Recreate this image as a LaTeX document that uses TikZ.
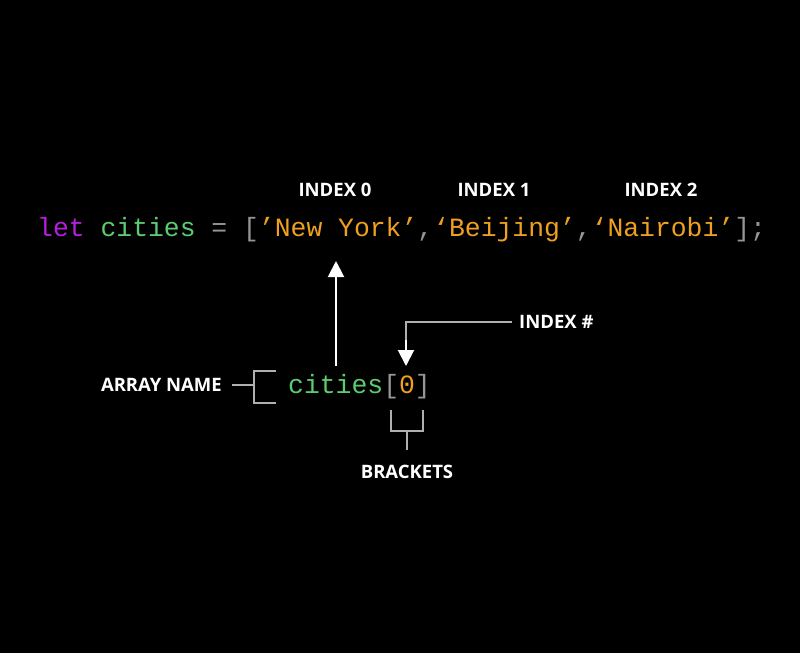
\documentclass[tikz,border=0pt]{standalone}
\usepackage{fontspec}
\setmainfont{Open Sans}
\setmonofont{Liberation Mono}
\usetikzlibrary{arrows.meta}
\definecolor{kwpurple}{RGB}{181,32,222}
\definecolor{idgreen}{RGB}{92,204,112}
\definecolor{strorange}{RGB}{240,160,32}
\definecolor{punct}{RGB}{150,150,150}
\definecolor{guide}{RGB}{175,175,175}
\tikzset{
  code/.style={inner sep=0pt, font=\fontsize{26.4}{30}\selectfont\ttfamily, anchor=base west},
  lbl/.style={inner sep=0pt, text=white, font=\fontsize{18.5}{22}\selectfont\bfseries},
  guideline/.style={draw=guide, line width=1.3pt},
  whitearrow/.style={draw=white, line width=2pt, -{Triangle[width=16pt,length=16pt]}},
}
\begin{document}
\begin{tikzpicture}[x=1pt,y=-1pt]
\fill[black] (0,0) rectangle (800,653);
\useasboundingbox (0,0) rectangle (800,653);
% code line
\node[code] (line) at (37,236) {\textcolor{kwpurple}{let} \textcolor{idgreen}{cities} \textcolor{punct}{= [}\textcolor{strorange}{’New York’}\textcolor{punct}{,}\textcolor{strorange}{‘Beijing’}\textcolor{punct}{,}\textcolor{strorange}{‘Nairobi’}\textcolor{punct}{];}};
% index labels
\node[lbl] (i0) at (335,190) {INDEX 0};
\node[lbl] (i1) at (494,190) {INDEX 1};
\node[lbl] (i2) at (661,190) {INDEX 2};
% access expression
\node[code] (acc) at (288,393) {\textcolor{idgreen}{cities}\textcolor{punct}{[}\textcolor{strorange}{0}\textcolor{punct}{]}};
\coordinate (upbot) at (336,366);
\coordinate (uptop) at (336,261);
\draw[whitearrow] (upbot) -- (uptop);
% index #
\node[lbl, anchor=west] (ih) at (519,322) {INDEX \#};
\coordinate (ihl) at (512,322);
\coordinate (dntip) at (406,366);
\draw[guideline] (ihl) -- (406,322) -- (406,352);
\draw[whitearrow] (406,340) -- (dntip);
% array name
\node[lbl, anchor=east] (an) at (222,385) {ARRAY NAME};
\coordinate (anr) at (232,385);
\draw[guideline] (anr) -- (254,385);
\draw[guideline] (276,371) -- (254,371) -- (254,403) -- (276,403);
% brackets
\node[lbl] (br) at (407,472) {BRACKETS};
\draw[guideline] (391,410) -- (391,431) -- (423,431) -- (423,410);
\coordinate (brtop) at (407,431);
\coordinate (brbot) at (407,450);
\draw[guideline] (brtop) -- (brbot);
\end{tikzpicture}
\end{document}
